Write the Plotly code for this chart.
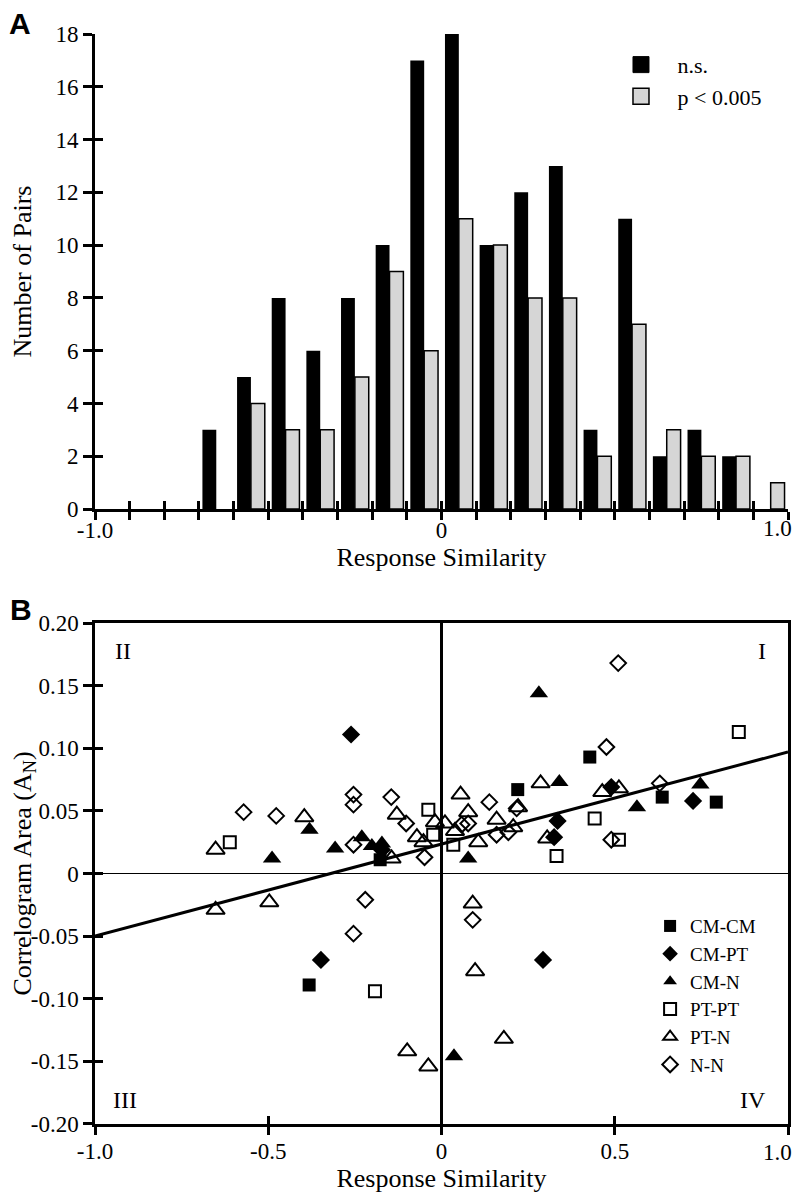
import plotly.graph_objects as go

# ---------------- Panel A data (histogram) ----------------
bin_centers = [-0.95, -0.85, -0.75, -0.65, -0.55, -0.45, -0.35, -0.25, -0.15, -0.05,
               0.05, 0.15, 0.25, 0.35, 0.45, 0.55, 0.65, 0.75, 0.85, 0.95]
ns_counts = [0, 0, 0, 3, 5, 8, 6, 8, 10, 17, 18, 10, 12, 13, 3, 11, 2, 3, 2, 0]
sig_counts = [0, 0, 0, 0, 4, 3, 3, 5, 9, 6, 11, 10, 8, 8, 2, 7, 3, 2, 2, 1]
a_xtick_vals = [-1.0, -0.9, -0.8, -0.7, -0.6, -0.5, -0.4, -0.3, -0.2, -0.1, 0.0,
                0.1, 0.2, 0.3, 0.4, 0.5, 0.6, 0.7, 0.8, 0.9, 1.0]
a_xtick_text = ["-1.0", "", "", "", "", "", "", "", "", "", "0",
                "", "", "", "", "", "", "", "", "", ""]
a_ytick_vals = [0, 2, 4, 6, 8, 10, 12, 14, 16, 18]
right_tick_label = "1.0"

# ---------------- Panel B data (scatter) ----------------
cmcm_x = [-0.382, -0.177, 0.220, 0.428, 0.637, 0.793]
cmcm_y = [-0.089, 0.011, 0.067, 0.093, 0.061, 0.057]

cmpt_x = [-0.261, -0.348, -0.172, 0.293, 0.335, 0.325, 0.490, 0.726]
cmpt_y = [0.111, -0.069, 0.019, -0.069, 0.042, 0.029, 0.069, 0.058]

cmn_x = [-0.489, -0.381, -0.307, -0.230, -0.201, -0.172, 0.036, 0.077, 0.281, 0.340, 0.564, 0.747]
cmn_y = [0.012, 0.035, 0.020, 0.029, 0.022, 0.024, -0.146, 0.012, 0.144, 0.073, 0.053, 0.071]

ptpt_x = [-0.611, -0.192, -0.038, -0.024, 0.034, 0.332, 0.442, 0.512, 0.858]
ptpt_y = [0.025, -0.094, 0.051, 0.031, 0.023, 0.014, 0.044, 0.027, 0.113]

ptn_x = [-0.652, -0.652, -0.497, -0.396, -0.144, -0.129, -0.071, -0.052, -0.019, 0.010,
         0.039, 0.055, 0.077, 0.106, 0.159, 0.207, 0.221, 0.286, 0.305, 0.464, 0.512,
         0.090, 0.097, -0.099, -0.038, 0.180]
ptn_y = [0.019, -0.029, -0.023, 0.045, 0.012, 0.047, 0.029, 0.025, 0.041, 0.040,
         0.034, 0.063, 0.049, 0.025, 0.043, 0.037, 0.053, 0.072, 0.028, 0.065, 0.068,
         -0.024, -0.078, -0.142, -0.154, -0.132]

nn_x = [-0.571, -0.477, -0.254, -0.254, -0.145, -0.254, -0.102, -0.049, 0.077, 0.058,
        0.138, 0.217, 0.193, 0.159, 0.476, 0.510, 0.630, 0.490, -0.220, -0.254, 0.090]
nn_y = [0.049, 0.046, 0.063, 0.055, 0.061, 0.023, 0.040, 0.013, 0.040, 0.039,
        0.057, 0.052, 0.033, 0.031, 0.101, 0.168, 0.072, 0.027, -0.021, -0.048, -0.037]

fit_x = [-1.0, 1.0]
fit_y = [-0.050, 0.097]

b_xtick_vals = [-1.0, -0.5, 0.0, 0.5, 1.0]
b_xtick_text = ["-1.0", "-0.5", "0", "0.5", ""]
b_ytick_vals = [0.20, 0.15, 0.10, 0.05, 0.0, -0.05, -0.10, -0.15, -0.20]
b_ytick_text = ["0.20", "0.15", "0.10", "0.05", "0", "-0.05", "-0.10", "-0.15", "-0.20"]

quad_labels = ["I", "II", "III", "IV"]
quad_x = [0.926, -0.92, -0.912, 0.898]
quad_y = [0.178, 0.178, -0.181, -0.181]

SERIF = "Liberation Serif, Times New Roman, serif"
BLACK = "black"
GRAY = "#d6d6d6"
NB = "\u00a0\u00a0\u00a0"


def nz(vals):
    return [v if v != 0 else None for v in vals]


fig = go.Figure()

# ----- Panel A bars -----
fig.add_trace(go.Bar(x=bin_centers, y=nz(ns_counts), name="n.s.",
                     marker=dict(color=BLACK, line=dict(color=BLACK, width=0)),
                     xaxis="x", yaxis="y", showlegend=False, hoverinfo="skip"))
fig.add_trace(go.Bar(x=bin_centers, y=nz(sig_counts), name="p < 0.005",
                     marker=dict(color=GRAY, line=dict(color=BLACK, width=1.5)),
                     xaxis="x", yaxis="y", showlegend=False, hoverinfo="skip"))
# legend entries for panel A
fig.add_trace(go.Scatter(x=[None], y=[None], mode="markers", name=NB + "n.s.",
                         marker=dict(symbol="square", size=16, color=BLACK,
                                     line=dict(color=BLACK, width=1)),
                         xaxis="x", yaxis="y", legend="legend", legendgroup="a1"))
fig.add_trace(go.Scatter(x=[None], y=[None], mode="markers", name=NB + "p < 0.005",
                         marker=dict(symbol="square", size=16, color=GRAY,
                                     line=dict(color=BLACK, width=1.5)),
                         xaxis="x", yaxis="y", legend="legend", legendgroup="a2"))

# inside-tick overlays for panel A
fig.add_trace(go.Scatter(x=[None], y=[None], xaxis="x3", yaxis="y", showlegend=False,
                         hoverinfo="skip"))
fig.add_trace(go.Scatter(x=[None], y=[None], xaxis="x", yaxis="y3", showlegend=False,
                         hoverinfo="skip"))

# ----- Panel B -----
fig.add_trace(go.Scatter(x=fit_x, y=fit_y, mode="lines", line=dict(color=BLACK, width=3),
                         xaxis="x2", yaxis="y2", showlegend=False, hoverinfo="skip"))

series = [
    ("CM-CM", cmcm_x, cmcm_y, "square", 13, 0),
    ("CM-PT", cmpt_x, cmpt_y, "diamond", 14, 0),
    ("CM-N", cmn_x, cmn_y, "triangle-up", 16, 0),
    ("PT-PT", ptpt_x, ptpt_y, "square-open", 12, 2),
    ("PT-N", ptn_x, ptn_y, "triangle-up-open", 16, 2),
    ("N-N", nn_x, nn_y, "diamond-open", 12, 2),
]
for name, xs, ys, sym, sz, lw in series:
    fig.add_trace(go.Scatter(x=xs, y=ys, mode="markers", name=name,
                             marker=dict(symbol=sym, size=sz, color=BLACK,
                                         line=dict(color=BLACK, width=lw)),
                             xaxis="x2", yaxis="y2", legend="legend2"))

fig.add_trace(go.Scatter(x=[None], y=[None], xaxis="x4", yaxis="y2", showlegend=False,
                         hoverinfo="skip"))
fig.add_trace(go.Scatter(x=[None], y=[None], xaxis="x2", yaxis="y4", showlegend=False,
                         hoverinfo="skip"))

tickfont = dict(family=SERIF, size=23, color=BLACK)
titlefont = dict(family=SERIF, size=26, color=BLACK)

for lab, qx, qy in zip(quad_labels, quad_x, quad_y):
    fig.add_annotation(x=qx, y=qy, xref="x2", yref="y2", text=lab, showarrow=False,
                       font=dict(family=SERIF, size=24, color=BLACK))

# right-end "1.0" tick labels (kept inside the page)
fig.add_annotation(x=1.0, y=0.5459, xref="x", yref="paper", text=right_tick_label,
                   xanchor="right", yanchor="middle", xshift=6, showarrow=False,
                   font=tickfont)
fig.add_annotation(x=1.0, y=-0.0257, xref="x2", yref="paper", text=right_tick_label,
                   xanchor="right", yanchor="middle", xshift=6, showarrow=False,
                   font=tickfont)

fig.add_annotation(x=-0.108, y=1.010, xref="paper", yref="paper", text="<b>A</b>",
                   xanchor="center", yanchor="middle", showarrow=False,
                   font=dict(family="Liberation Sans, Arial", size=30, color=BLACK))
fig.add_annotation(x=-0.107, y=0.4716, xref="paper", yref="paper", text="<b>B</b>",
                   xanchor="center", yanchor="middle", showarrow=False,
                   font=dict(family="Liberation Sans, Arial", size=30, color=BLACK))

A_DOM = [0.5642, 1.0]
B_DOM = [0.0, 0.4596]

common = dict(showgrid=False, color=BLACK, tickcolor=BLACK, tickwidth=2.5, linecolor=BLACK,
              automargin=False)

fig.update_layout(
    width=794, height=1187,
    margin=dict(l=87, r=14, t=26, b=71),
    paper_bgcolor="white", plot_bgcolor="white",
    template="none",
    barmode="group", bargap=0.2, bargroupgap=0.0,
    font=dict(family=SERIF, color=BLACK),
    xaxis=dict(domain=[0, 1], anchor="y", range=[-1, 1], tickmode="array",
               tickvals=a_xtick_vals, ticktext=a_xtick_text, ticks="outside", ticklen=8,
               ticklabelstandoff=-10,
               showline=True, linewidth=3, zeroline=False, tickfont=tickfont,
               title=dict(text="Response Similarity", font=titlefont, standoff=4),
               **common),
    yaxis=dict(domain=A_DOM, anchor="x", range=[0, 18], tickmode="array",
               tickvals=a_ytick_vals, ticks="outside", ticklen=9, showline=True,
               linewidth=3, zeroline=False, tickfont=tickfont,
               title=dict(text="Number of Pairs", font=titlefont, standoff=24),
               **common),
    xaxis3=dict(overlaying="x", anchor="y", range=[-1, 1], tickmode="array",
                tickvals=a_xtick_vals, ticks="inside", ticklen=8, showticklabels=False,
                showline=False, zeroline=False, **common),
    yaxis3=dict(overlaying="y", anchor="x", range=[0, 18], tickmode="array",
                tickvals=a_ytick_vals, ticks="inside", ticklen=8, showticklabels=False,
                showline=False, zeroline=False, **common),
    xaxis2=dict(domain=[0, 1], anchor="y2", range=[-1, 1], tickmode="array",
                tickvals=b_xtick_vals, ticktext=b_xtick_text, ticks="outside", ticklen=8,
                ticklabelstandoff=-3,
                showline=True, linewidth=2.5, mirror=True, zeroline=True,
                zerolinecolor=BLACK, zerolinewidth=2.5, tickfont=tickfont,
                title=dict(text="Response Similarity", font=titlefont, standoff=4),
                **common),
    yaxis2=dict(domain=B_DOM, anchor="x2", range=[-0.2, 0.2], tickmode="array",
                tickvals=b_ytick_vals, ticktext=b_ytick_text, ticks="outside", ticklen=9,
                showline=True, linewidth=2.5, mirror=True, zeroline=True,
                zerolinecolor=BLACK, zerolinewidth=1.3, tickfont=tickfont,
                title=dict(text="Correlogram Area (A<sub>N</sub>)", font=titlefont, standoff=4),
                **common),
    xaxis4=dict(overlaying="x2", anchor="y2", range=[-1, 1], tickmode="array",
                tickvals=b_xtick_vals, ticks="inside", ticklen=8, showticklabels=False,
                showline=False, zeroline=False, **common),
    yaxis4=dict(overlaying="y2", anchor="x2", range=[-0.2, 0.2], tickmode="array",
                tickvals=b_ytick_vals, ticks="inside", ticklen=8, showticklabels=False,
                showline=False, zeroline=False, **common),
    legend=dict(x=0.759, y=0.991, xanchor="left", yanchor="top", bgcolor="rgba(0,0,0,0)",
                font=dict(family=SERIF, size=22, color=BLACK), traceorder="grouped",
                tracegroupgap=0, borderwidth=0),
    legend2=dict(x=0.801, y=0.199, xanchor="left", yanchor="top", bgcolor="rgba(0,0,0,0)",
                 font=dict(family=SERIF, size=19, color=BLACK), itemsizing="constant",
                 borderwidth=0),
)

fig.write_html("out.html")
